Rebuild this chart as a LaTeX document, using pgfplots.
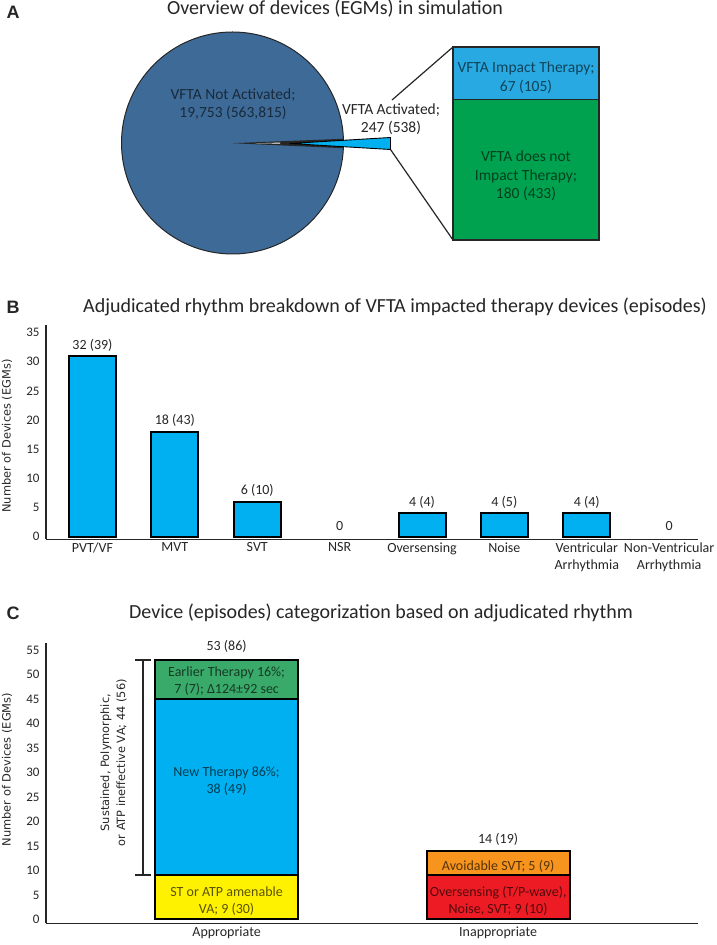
\documentclass[border=0pt]{standalone}
\usepackage{pgfplots}
\pgfplotsset{compat=1.18}
\usepackage{fontspec}
\setmainfont{Carlito}
\newfontfamily\dejavufam{DejaVu Sans}
\newfontfamily\liberfam{Liberation Sans}

\definecolor{piecol}{RGB}{62,106,151}
\definecolor{actblue}{RGB}{0,176,240}
\definecolor{boxblue}{RGB}{41,169,225}
\definecolor{boxgreen}{RGB}{0,162,79}
\definecolor{cgreen}{RGB}{58,170,106}
\definecolor{cyellow}{RGB}{255,242,0}
\definecolor{corange}{RGB}{247,148,29}
\definecolor{cred}{RGB}{237,28,36}
\definecolor{txt}{RGB}{38,38,38}

\newcommand\fntLab{\fontsize{14bp}{16.6bp}\selectfont}
\newcommand\fntTick{\fontsize{13bp}{15bp}\selectfont}
\newcommand\fntTitle{\fontsize{20bp}{24bp}\selectfont}
\newcommand\fntSeg{\fontsize{15.5bp}{18.5bp}\selectfont}
\newcommand\fntYlab{\dejavufam\fontsize{11.4bp}{16bp}\selectfont}
\newcommand\fntPanel{\liberfam\bfseries\fontsize{18bp}{20bp}\selectfont}

\tikzset{
  seglab/.style={align=center, font=\fntLab, text=black, text opacity=0.65},
  seglabA/.style={align=center, font=\fntSeg, text=black, text opacity=0.6},
}

\pgfplotsset{
  panel/.style={
    scale only axis, width=652bp,
    axis x line=bottom, axis y line=left,
    axis line style={line width=1.3bp, txt, -},
    major tick length=0pt,
    /pgf/number format/assume math mode=true,
    yticklabel style={font=\fntTick, text=txt, xshift=-3bp},
    xticklabel style={font=\fntLab, text=txt, align=center},
    ylabel={Number of Devices (EGMs)},
    ylabel style={font=\fntYlab, text=txt, anchor=center},
  },
}

\begin{document}
\begin{tikzpicture}
\path[use as bounding box] (0,0) rectangle (717bp,945bp);

% ---------- A
\node[font=\fntPanel, text=txt] at (13bp,933bp) {A};
\node[font=\fntTitle, text=txt] at (335bp,936bp) {Overview of devices (EGMs) in simulation};

\begin{axis}[at={(0bp,685bp)}, anchor=south west, scale only axis,
  width=717bp, height=260bp, xmin=0, xmax=717, ymin=0, ymax=260,
  y dir=reverse, hide axis, clip=false]
  \draw[line width=1bp, txt, fill=piecol] (axis cs:232.5,143) circle[radius=111bp];
  \addplot[fill=black!85, draw=none] coordinates {(232.5,143.2) (343,138.8) (343,148.2)} -- cycle;
  \addplot[fill=white, draw=none] coordinates {(255,143.3) (280,142.6) (280,143.6)} -- cycle;
  \addplot[fill=actblue, draw=black, line width=0.9bp]
    coordinates {(290,143.5) (390.5,137.5) (390.5,149.5)} -- cycle;
  \draw[line width=1.2bp, txt] (axis cs:392,100) -- (axis cs:453,47);
  \draw[line width=1.2bp, txt] (axis cs:390.5,149.5) -- (axis cs:453,240);
  \coordinate (pNA) at (axis cs:233,104);
  \coordinate (pAC) at (axis cs:391,119);
\end{axis}
\node[seglabA] at (pNA) {VFTA Not Activated;\\19,753 (563,815)};
\node[align=center, font=\fntSeg, text=txt] at (pAC) {VFTA Activated;\\247 (538)};

\begin{axis}[at={(453bp,705bp)}, anchor=south west, scale only axis,
  width=146bp, height=193bp, xmin=-0.5, xmax=0.5, ymin=0, ymax=247,
  hide axis, ybar stacked, bar width=146bp, clip=false]
  \addplot[fill=boxgreen, draw=txt, line width=1.2bp] coordinates {(0,180)};
  \addplot[fill=boxblue, draw=txt, line width=1.2bp] coordinates {(0,67)};
  \coordinate (pIT) at (axis cs:0,208);
  \coordinate (pNIT) at (axis cs:0,82);
\end{axis}
\node[seglabA] at (pIT) {VFTA Impact Therapy;\\67 (105)};
\node[seglabA] at (pNIT) {VFTA does not\\Impact Therapy;\\180 (433)};

% ---------- B
\node[font=\fntPanel, text=txt] at (13bp,638bp) {B};
\node[font=\fntTitle, text=txt] at (395bp,638bp)
  {Adjudicated rhythm breakdown of VFTA impacted therapy devices (episodes)};

\begin{axis}[panel, at={(46bp,405.7bp)}, anchor=south west, height=214.3bp,
  xmin=-0.564, xmax=7.35, ymin=-0.45, ymax=36.3,
  ytick={0,5,...,35}, xtick={0,...,7},
  xticklabels={PVT/VF, MVT, SVT, NSR, Oversensing, Noise,
    {Ventricular\\Arrhythmia}, {Non-Ventricular\\Arrhythmia}},
  ylabel style={at={(axis description cs:-0.0598,0.482)}},
  ybar, bar width=47bp, bar shift=0pt,
  nodes near coords, point meta=explicit symbolic,
  every node near coord/.append style={font=\fntLab, text=txt, anchor=center, yshift=11bp},
  ]
  \addplot[fill=actblue, draw=black, line width=2bp, bar shift=0pt] coordinates {
    (0,31) [32 (39)]
    (1,18) [18 (43)]
    (2,6)  [6 (10)]
    (4,4)  [4 (4)]
    (5,4)  [4 (5)]
    (6,4)  [4 (4)]
  };
  \addplot[draw=none, fill=none, bar shift=0pt] coordinates {(3,0) [0] (7,0) [0]};
\end{axis}

% ---------- C
\node[font=\fntPanel, text=txt] at (13bp,332bp) {C};
\node[font=\fntTitle, text=txt] at (381bp,332bp)
  {Device (episodes) categorization based on adjudicated rhythm};

\begin{axis}[panel, at={(46bp,21.7bp)}, anchor=south west, height=280.6bp,
  xmin=-0.665, xmax=1.736, ymin=-0.8, ymax=56.5,
  ytick={0,5,...,55}, xtick={0,1}, xticklabels={Appropriate, Inappropriate},
  ylabel style={at={(axis description cs:-0.0598,0.548)}},
  ybar stacked, bar width=143bp, clip=false,
  ]
  \addplot[fill=cyellow, draw=black, line width=2bp] coordinates {(0,9) (1,0)};
  \addplot[fill=cred, draw=black, line width=2bp] coordinates {(0,0) (1,9)};
  \addplot[fill=actblue, draw=black, line width=2bp] coordinates {(0,36) (1,0)};
  \addplot[fill=corange, draw=black, line width=2bp] coordinates {(0,0) (1,5)};
  \addplot[fill=cgreen, draw=black, line width=2bp] coordinates {(0,8) (1,0)};

  \coordinate (cTot1) at (axis cs:0,55.8);
  \coordinate (cTot2) at (axis cs:1,16.4);
  \coordinate (cY) at (axis cs:0,3.74);
  \coordinate (cB) at (axis cs:0,28.2);
  \coordinate (cG) at (axis cs:0,48.7);
  \coordinate (cO) at (axis cs:1,10.9);
  \coordinate (cR) at (axis cs:1,3.74);
  \coordinate (cBr) at (axis cs:-0.416,32);

  \draw[line width=2.2bp, txt] (axis cs:-0.308,9) -- (axis cs:-0.308,53)
    (axis cs:-0.336,9) -- (axis cs:-0.280,9)
    (axis cs:-0.336,53) -- (axis cs:-0.280,53);
\end{axis}
\node[font=\fntLab, text=txt] at (cTot1) {53 (86)};
\node[font=\fntLab, text=txt] at (cTot2) {14 (19)};
\node[seglab] at (cY) {ST or ATP amenable\\VA; 9 (30)};
\node[seglab] at (cB) {New Therapy 86\%;\\38 (49)};
\node[seglab] at (cG) {Earlier Therapy 16\%;\\7 (7); Δ124±92 sec};
\node[seglab] at (cO) {Avoidable SVT; 5 (9)};
\node[seglab] at (cR) {Oversensing (T/P-wave),\\Noise, SVT; 9 (10)};
\node[rotate=90, align=center, font=\fntYlab, text=txt] at (cBr)
  {Sustained, Polymorphic,\\or ATP ineffective VA; 44 (56)};
\end{tikzpicture}
\end{document}
